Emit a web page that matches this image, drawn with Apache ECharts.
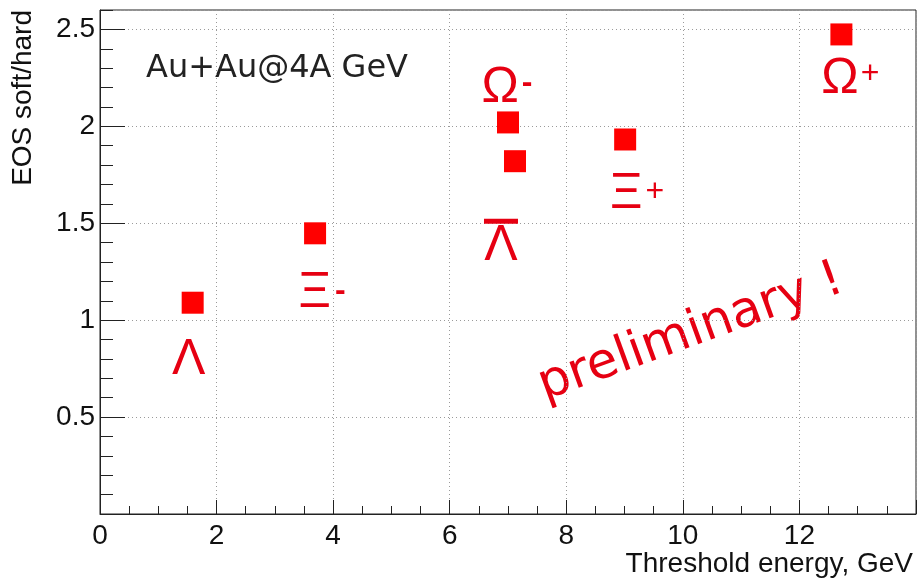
<!DOCTYPE html>
<html>
<head>
<meta charset="utf-8">
<script src="https://cdn.jsdelivr.net/npm/echarts@6/dist/echarts.min.js"></script>
<style>
  html, body { margin: 0; padding: 0; background: #fff; }
  #chart { width: 920px; height: 579px; }
</style>
</head>
<body>
<div id="chart"></div>
<script>
// ---- data ----
const particles = ['Λ', 'Ξ-', 'Ω-', 'anti-Λ', 'Ξ+', 'Ω+'];
const thresholdEnergy = [1.59, 3.69, 7.0, 7.12, 9.01, 12.72];
const eosRatio = [1.09, 1.448, 2.02, 1.82, 1.932, 2.474];
const particleLabels = ['{g|Λ}', '{g|Ξ}{s|-}', '{g|Ω}{t|-}', '{bar| }\n{g|Λ}', '{g|Ξ}{sp|+}', '{g|Ω}{tp|+}'];
const xTicks = [0, 2, 4, 6, 8, 10, 12];
const yTicks = [0.5, 1, 1.5, 2, 2.5];
const annotationText = 'Au+Au@4A GeV';
const watermarkText = 'preliminary !';

// ---- layout / style (not data) ----
const labelOffsets = [[-4, 58], [7, 60], [-1, -34], [-14, 82], [12, 55], [9, 45]];
const RED = '#ff0000';
const TXT_RED = '#e60012';
const AXIS = '#222';
const FONT = '"Liberation Sans", Arial, Helvetica, sans-serif';

const richStyles = {
  g: { fontSize: 50, fontFamily: FONT, color: TXT_RED, lineHeight: 44 },
  s: { fontSize: 32, fontWeight: 'bold', fontFamily: FONT, color: TXT_RED, padding: [0, 0, 4, 4] },
  t: { fontSize: 32, fontWeight: 'bold', fontFamily: FONT, color: TXT_RED, padding: [0, 0, 11, 3] },
  sp: { fontSize: 32, fontFamily: FONT, color: TXT_RED, padding: [0, 0, 4, 3] },
  tp: { fontSize: 32, fontFamily: FONT, color: TXT_RED, padding: [0, 0, 11, 2] },
  bar: { width: 34, height: 5, lineHeight: 6, backgroundColor: TXT_RED, fontSize: 4 }
};

const points = thresholdEnergy.map((x, i) => ({
  name: particles[i],
  value: [x, eosRatio[i]],
  label: {
    show: true,
    position: 'inside',
    offset: labelOffsets[i],
    formatter: particleLabels[i],
    rich: richStyles,
    align: 'center',
    verticalAlign: 'middle'
  }
}));

const chart = echarts.init(document.getElementById('chart'), null, { renderer: 'canvas' });
chart.setOption({
  animation: false,
  backgroundColor: '#fff',
  grid: {
    left: 100, right: 4, top: 10, bottom: 65,
    show: true, borderColor: AXIS, borderWidth: 1,
    containLabel: false, outerBoundsMode: 'none'
  },
  xAxis: {
    type: 'value', min: 0, max: 14, interval: 2, position: 'bottom',
    name: 'Threshold energy, GeV', nameLocation: 'end', nameGap: -3,
    nameTextStyle: { fontSize: 28, fontFamily: FONT, color: '#111', align: 'right', verticalAlign: 'top', padding: [36, 0, 0, 0] },
    axisLine: { show: true, lineStyle: { color: AXIS, width: 1 } },
    axisTick: { show: true, inside: true, length: 14, lineStyle: { color: AXIS } },
    minorTick: { show: true, splitNumber: 4, length: 8, lineStyle: { color: AXIS } },
    splitLine: { show: true, lineStyle: { color: '#9a9a9a', type: [1, 3], width: 1 } },
    minorSplitLine: { show: false },
    axisLabel: {
      fontSize: 28, fontFamily: FONT, color: '#111', margin: 8,
      showMaxLabel: false,
      formatter: v => (xTicks.indexOf(v) >= 0 ? String(v) : '')
    }
  },
  yAxis: [
    {
      type: 'value', min: 0, max: 2.6, interval: 0.5, position: 'left',
      name: 'EOS soft/hard', nameLocation: 'end', nameGap: 0, nameRotate: 90,
      nameTextStyle: { fontSize: 28, fontFamily: FONT, color: '#111', align: 'right', verticalAlign: 'bottom', padding: [0, 0, 63, 0] },
      axisLine: { show: true, lineStyle: { color: AXIS, width: 1 } },
      axisTick: { show: true, inside: true, length: 25, lineStyle: { color: AXIS } },
      splitLine: { show: true, lineStyle: { color: '#9a9a9a', type: [1, 3], width: 1 } },
      axisLabel: {
        fontSize: 28, fontFamily: FONT, color: '#111', margin: 5,
        showMaxLabel: false, showMinLabel: false,
        formatter: v => (yTicks.indexOf(v) >= 0 ? String(v) : '')
      }
    },
    {
      type: 'value', min: 0, max: 2.6, interval: 0.1, position: 'left', offset: 0,
      axisLine: { show: false },
      axisTick: { show: true, inside: true, length: 13, lineStyle: { color: AXIS } },
      splitLine: { show: false },
      axisLabel: { show: false }
    }
  ],
  series: [
    {
      type: 'scatter',
      xAxisIndex: 0, yAxisIndex: 0,
      symbol: 'rect',
      symbolSize: 22,
      itemStyle: { color: RED, opacity: 1 },
      emphasis: { disabled: true },
      data: points,
      z: 5
    }
  ],
  graphic: [
    {
      type: 'text', x: 146, y: 69,
      style: { text: annotationText, font: '32px "DejaVu Sans", Verdana, sans-serif', fill: '#222',
               align: 'left', verticalAlign: 'middle', textAlign: 'left', textVerticalAlign: 'middle' }
    },
    {
      type: 'text', x: 691, y: 333, rotation: 20 * Math.PI / 180,
      style: { text: watermarkText, font: '50px "DejaVu Sans", Verdana, sans-serif', fill: TXT_RED,
               align: 'center', verticalAlign: 'middle', textAlign: 'center', textVerticalAlign: 'middle' }
    }
  ]
});
</script>
</body>
</html>
